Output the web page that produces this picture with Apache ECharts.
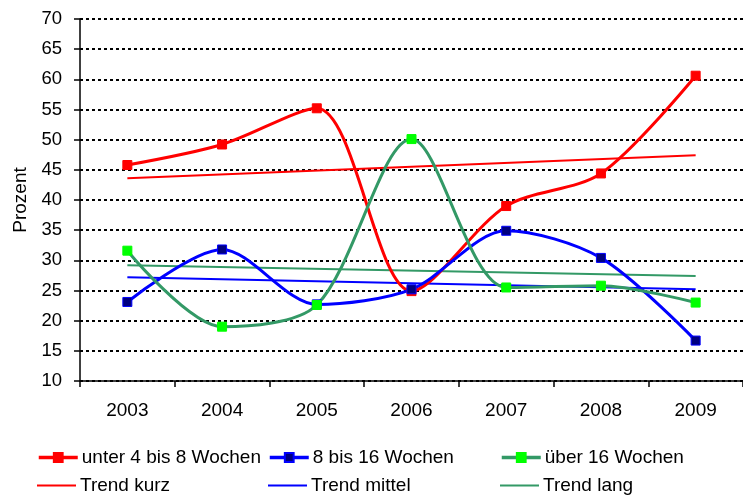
<!DOCTYPE html>
<html><head><meta charset="utf-8">
<script src="https://cdn.jsdelivr.net/npm/echarts@6/dist/echarts.min.js"></script>
<style>html,body{margin:0;padding:0;background:#fff}#c{width:743px;height:497px}</style>
</head><body><div id="c"></div>
<script>
var categories = ['2003','2004','2005','2006','2007','2008','2009'];
var kurz = [45.8, 49.2, 55.2, 24.9, 39.0, 44.4, 60.6];
var mittel = [23.1, 31.8, 22.7, 25.2, 34.9, 30.4, 16.7];
var lang = [31.6, 19.0, 22.6, 50.1, 25.5, 25.8, 23.0];
var trendKurz = [43.6, null, null, null, null, null, 47.4];
var trendMittel = [27.2, null, null, null, null, null, 25.2];
var trendLang = [29.2, null, null, null, null, null, 27.4];
var names = ['unter 4 bis 8 Wochen','8 bis 16 Wochen','über 16 Wochen','Trend kurz','Trend mittel','Trend lang'];
var yTicks = {min: 10, max: 70, interval: 5};

var sans = '"Liberation Sans",Arial,sans-serif';
var chart = echarts.init(document.getElementById('c'), null, {renderer:'canvas'});

function mainSeries(name, data, lineColor, markColor, borderColor){
  return {name:name, type:'line', data:data, smooth:0.3, symbol:'rect', symbolSize:9,
    lineStyle:{color:lineColor, width:3},
    itemStyle:{color:markColor, borderColor:borderColor, borderWidth:1},
    color:lineColor, z:3};
}
function trendSeries(name, data, color){
  return {name:name, type:'line', data:data, connectNulls:true, symbol:'none',
    lineStyle:{color:color, width:2}, itemStyle:{color:color}, color:color, z:2};
}
var colLeft = [37, 268, 500];
var rowCenter = [459, 487];
var legends = names.map(function(n,i){
  var isTrend = i >= 3;
  var ih = isTrend ? 2 : 11;
  return {data:[isTrend ? {name:n, icon:'rect'} : n], left:colLeft[i%3], top:rowCenter[Math.floor(i/3)] - 11,
    itemWidth:39, itemHeight:ih, itemGap:4, padding:0,
    lineStyle:{width:3.5},
    textStyle:{fontFamily:sans, fontSize:19, color:'#000', padding:[0,0,0,-1]}};
});
chart.setOption({
  animation:false,
  grid:{left:80, top:19, width:674, height:362, containLabel:false},
  legend:legends,
  xAxis:{type:'category', data:categories, boundaryGap:true,
    axisLine:{lineStyle:{color:'#000', width:1.5}},
    axisTick:{show:true, length:6, interval:0, lineStyle:{color:'#000', width:1.5}},
    axisLabel:{fontFamily:sans, fontSize:19, color:'#000', margin:20}},
  yAxis:{type:'value', min:yTicks.min, max:yTicks.max, interval:yTicks.interval,
    name:'Prozent', nameLocation:'middle', nameGap:47, nameRotate:90,
    nameTextStyle:{fontFamily:sans, fontSize:19, color:'#000'},
    axisLine:{show:true, lineStyle:{color:'#000', width:1.5}},
    axisTick:{show:true, length:6, lineStyle:{color:'#000', width:1.5}},
    axisLabel:{fontFamily:sans, fontSize:18.5, color:'#000', margin:18},
    splitLine:{show:true, lineStyle:{color:'#000', width:2, type:[3,3]}}},
  series:[
    mainSeries(names[0], kurz, '#ff0000', '#ff0000', '#ff0000'),
    mainSeries(names[1], mittel, '#0000ff', '#000080', '#0000ff'),
    mainSeries(names[2], lang, '#339966', '#00ff00', '#00ff00'),
    trendSeries(names[3], trendKurz, '#ff0000'),
    trendSeries(names[4], trendMittel, '#0000ff'),
    trendSeries(names[5], trendLang, '#339966')
  ]
});
</script></body></html>
